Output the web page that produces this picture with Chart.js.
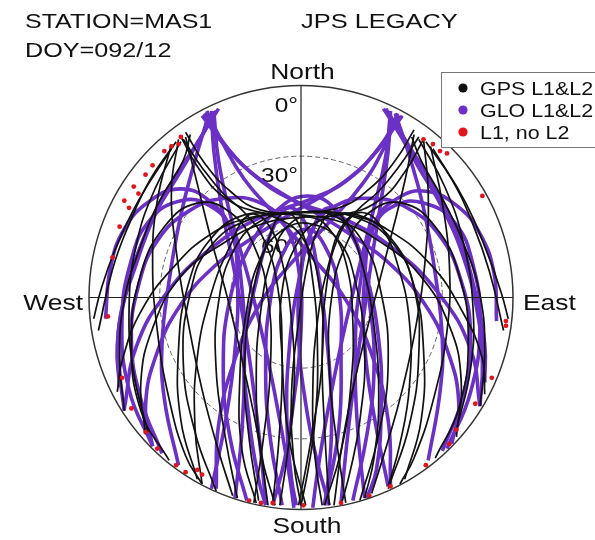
<!DOCTYPE html>
<html>
<head>
<meta charset="utf-8">
<title>MAS1 sky plot</title>
<script src="https://cdn.jsdelivr.net/npm/chart.js@4/dist/chart.umd.min.js"></script>
<style>
  html, body { margin: 0; padding: 0; background: #ffffff; }
  #wrap { width: 595px; height: 540px; position: relative; }
</style>
</head>
<body>
<div id="wrap"><canvas id="sky" width="595" height="540"></canvas></div>
<script>
// Sky tracks as [east, north] offsets in degrees of zenith distance (90 = horizon).

// GPS satellites, L1 & L2 tracked
const gpsTracks = [
  [[-51,68],[-43,54],[-32,42],[-17,36],[0,35],[17,32],[33,24],[50,10],[63,-12],[68,-35],[66,-59]],
  [[-49,70],[-41,57],[-30,45],[-17,37],[2,36],[21,35],[38,28],[55,14],[68,-5],[77,-26],[78,-41]],
  [[52,67],[44,53],[33,41],[17,35],[-1,34],[-17,31],[-33,23],[-51,9],[-63,-13],[-68,-36],[-66,-58]],
  [[48,71],[40,58],[29,46],[16,38],[-2,36],[-21,34],[-38,27],[-54,13],[-68,-6],[-76,-27],[-78,-40]],
  [[-52,67],[-55,46],[-53,20],[-48,-10],[-42,-39],[-35,-65],[-29,-84]],
  [[-55,65],[-61,41],[-63,15],[-61,-14],[-56,-43],[-49,-67],[-42,-79]],
  [[-49,68],[-44,48],[-38,24],[-31,-1],[-24,-31],[-18,-60],[-14,-88]],
  [[-53,66],[-64,50],[-73,31],[-80,12],[-86,-14]],
  [[52,67],[54,45],[53,19],[49,-11],[43,-39],[36,-64],[30,-83]],
  [[55,64],[60,40],[63,14],[62,-14],[56,-44],[48,-68],[42,-79]],
  [[48,69],[44,49],[38,25],[31,-2],[24,-30],[18,-59],[14,-88]],
  [[53,66],[64,50],[73,31],[80,11],[86,-14]],
  [[-27,-85],[-32,-60],[-36,-31],[-35,-2],[-28,21],[-16,33],[-1,36],[13,35],[26,24],[34,2],[37,-28],[33,-58],[25,-86]],
  [[-11,-88],[-17,-65],[-19,-35],[-17,-5],[-12,18],[-5,31],[4,34],[12,29],[19,15],[22,-10],[21,-39],[17,-65],[10,-88]],
  [[-44,-77],[-51,-52],[-52,-22],[-48,5],[-39,24],[-24,35],[-9,33],[2,23],[8,3],[9,-26],[5,-56],[-1,-88]],
  [[2,-88],[-5,-60],[-8,-26],[-8,3],[-1,24],[9,33],[24,35],[39,24],[48,5],[52,-22],[51,-52],[44,-77]],
  [[-36,-82],[-45,-57],[-50,-27],[-47,2],[-39,21],[-22,33],[1,36],[23,34],[39,23],[48,4],[50,-24],[46,-54],[37,-81]],
  [[-55,63],[-69,41],[-79,20],[-85,3],[-88,-9]],
  [[56,63],[70,40],[79,19],[85,2],[88,-9]],
  [[-19,-87],[-25,-65],[-26,-35],[-23,-5],[-17,17],[-7,29],[5,31],[16,24],[23,7],[27,-22],[25,-52],[21,-73],[17,-88]],
  [[-75,-48],[-77,-26],[-75,-1],[-68,22],[-60,41],[-50,58],[-47,69]],
  [[76,-46],[78,-24],[76,1],[69,23],[60,42],[51,58],[47,68]],
  [[-18,-86],[-22,-60],[-24,-31],[-21,-1],[-14,24],[-7,36],[0,29],[5,7],[7,-22],[6,-52],[3,-73],[0,-88]],
  [[0,-88],[-3,-70],[-4,-40],[-1,-10],[3,15],[8,30],[14,36],[20,30],[26,14],[31,-12],[33,-42],[31,-68],[27,-85]],
  [[-42,-79],[-45,-55],[-44,-25],[-38,2],[-30,22],[-22,35],[-14,31],[-8,15],[-4,-10],[-3,-40],[-6,-68],[-9,-88]],
  [[9,-88],[6,-68],[5,-40],[7,-10],[12,15],[18,31],[26,36],[34,30],[41,14],[46,-10],[46,-38],[42,-62],[37,-80]],
  [[-56,-69],[-68,-48],[-72,-18],[-68,10],[-58,30],[-44,40],[-30,36],[-20,22],[-14,0],[-13,-30],[-16,-60],[-20,-87]],
  [[57,-68],[67,-47],[71,-18],[67,10],[57,30],[43,40],[29,36],[19,22],[13,0],[12,-30],[15,-60],[19,-87]],
  [[-51,66],[-62,46],[-70,22],[-73,-5],[-71,-32],[-65,-57]],
  [[50,67],[61,47],[69,23],[73,-4],[72,-30],[66,-56]],
  [[-50,67],[-42,55],[-33,44],[-24,36],[-16,25],[-10,5],[-8,-25],[-9,-55],[-12,-88]],
  [[50,68],[42,56],[33,45],[24,37],[16,26],[11,6],[9,-24],[10,-55],[12,-88]]
];

// GLONASS satellites, L1 & L2 tracked
const gloTracks = [
  [[-37,79],[-35,58],[-30,35],[-22,7],[-15,-22],[-9,-52],[-5,-75],[-3,-89]],
  [[-40,79],[-33,65],[-24,50],[-11,35],[4,18],[19,-1],[30,-24],[37,-52],[38,-80]],
  [[-42,77],[-32,64],[-19,51],[-3,41],[19,33],[40,20],[59,1],[72,-22],[76,-46]],
  [[-36,79],[-43,67],[-52,52],[-62,35],[-70,14],[-77,-10],[-77,-31],[-75,-48]],
  [[-39,78],[-45,58],[-51,35],[-56,7],[-59,-20],[-58,-43],[-52,-71]],
  [[38,79],[36,60],[31,38],[24,10],[17,-20],[11,-50],[7,-74],[5,-89]],
  [[41,78],[35,63],[26,48],[13,33],[-2,17],[-17,-2],[-28,-26],[-35,-54],[-36,-81]],
  [[43,77],[33,63],[20,50],[5,42],[-17,34],[-38,21],[-57,2],[-70,-21],[-75,-47]],
  [[35,80],[42,69],[50,55],[60,38],[69,17],[75,-7],[77,-28],[76,-46]],
  [[40,78],[46,60],[52,38],[57,10],[60,-18],[59,-40],[54,-69]],
  [[-23,-86],[-30,-60],[-33,-31],[-30,0],[-21,23],[-9,38],[3,43],[14,38],[24,22],[29,-2],[31,-30],[28,-58],[22,-86]],
  [[-59,-66],[-68,-43],[-72,-18],[-69,5],[-61,24],[-47,37],[-32,42],[-17,40],[-7,31],[-1,12],[0,-14],[-3,-43],[-7,-69],[-12,-88]],
  [[60,-65],[69,-41],[72,-16],[68,7],[59,26],[45,38],[30,42],[15,39],[5,29],[0,10],[-1,-16],[2,-45],[7,-70],[12,-88]],
  [[-83,-9],[-81,12],[-75,29],[-64,41],[-51,46],[-39,41],[-30,29],[-25,3],[-24,-26],[-25,-56],[-28,-85]],
  [[83,-10],[82,10],[76,27],[66,39],[53,45],[41,42],[31,31],[25,5],[23,-24],[24,-55],[27,-85]],
  [[-8,-88],[-13,-60],[-15,-31],[-13,-1],[-7,20],[2,29],[10,22],[16,3],[17,-26],[16,-56],[10,-88]],
  [[-15,-88],[-18,-77],[-22,-52],[-24,-22],[-19,7],[-12,29],[-5,38],[2,31],[7,12],[11,-18],[13,-48],[12,-73],[10,-88]],
  [[-2,-88],[-4,-77],[-6,-52],[-5,-22],[-1,7],[5,29],[12,38],[20,29],[27,12],[33,-18],[34,-48],[32,-73],[28,-85]],
  [[-63,-63],[-73,-39],[-76,-10],[-72,16],[-64,33],[-51,41],[-39,39],[-30,29],[-27,7],[-28,-22],[-32,-52],[-38,-81]],
  [[62,-64],[72,-40],[76,-12],[73,14],[65,32],[52,40],[40,39],[31,30],[27,8],[27,-20],[31,-50],[37,-80]],
  [[-38,79],[-37,62],[-34,40],[-29,15],[-24,-12],[-20,-40],[-17,-66],[-15,-87]],
  [[38,78],[37,62],[34,41],[30,16],[26,-12],[22,-40],[19,-66],[17,-87]],
  [[-35,80],[-45,64],[-56,47],[-66,27],[-74,3],[-78,-20],[-77,-38]],
  [[36,80],[46,64],[57,46],[67,26],[74,2],[78,-20],[78,-36]],
  [[-41,78],[-31,63],[-20,52],[-8,44],[6,36],[22,26],[38,14],[52,-2],[62,-22],[67,-45],[64,-62]],
  [[42,77],[32,62],[21,51],[9,43],[-5,35],[-21,25],[-37,13],[-51,-3],[-61,-23],[-66,-46],[-63,-63]]
];

// Epochs with L1 only (no L2), low on the horizon
const l1OnlyPoints = [
  [-52,65],[-55,64],[-58,62],[-66,52],[-69,44],[-73,38],[-75,41],[-77,30],[-80,17],[-51,68],[-63,56],[-71,47],
  [52,67],[56,65],[62,61],[77,43],[59,62],
  [-82,-8],[-76,-34],[-72,-47],[-66,-57],[-61,-64],[-53,-71],[-49,-74],[-44,-73],[-42,-75],[-22,-86],[-17,-87],[-12,-87],
  [87,-12],[87,-10],[81,-34],[74,-45],[66,-56],[63,-62],[53,-71],[38,-80],[29,-84],[17,-87],[1,-88]
];

// Elevation rings and their labels
const ringElevations = [0, 30, 60];
const ringLabels = ['0°', '30°', '60°'];
const compassLabels = ['North', 'South', 'West', 'East'];
const titleLines = ['STATION=MAS1', 'DOY=092/12'];
const receiverLabel = 'JPS LEGACY';
const seriesNames = ['GPS L1&L2', 'GLO L1&L2', 'L1, no L2'];
const seriesColors = ['#111111', '#6b30c4', '#e3141a'];

const FONT = '"Liberation Sans", Arial, Helvetica, sans-serif';
const toXY = pts => pts.map(([e, n]) => ({ x: e, y: n }));

const datasets = [];
gloTracks.forEach(t => datasets.push({
  data: toXY(t), showLine: true, pointRadius: 0, borderColor: seriesColors[1],
  borderWidth: 3.6, tension: 0.45, order: 2, fill: false
}));
gpsTracks.forEach(t => datasets.push({
  data: toXY(t), showLine: true, pointRadius: 0, borderColor: seriesColors[0],
  borderWidth: 1.7, tension: 0.45, order: 1, fill: false
}));
datasets.push({
  data: toXY(l1OnlyPoints), showLine: false, pointRadius: 2.4, pointBorderWidth: 0,
  pointBackgroundColor: seriesColors[2], order: 0
});

function wideText(ctx, text, x, y, align, size, sx) {
  ctx.save();
  ctx.font = size + 'px ' + FONT;
  ctx.textAlign = align;
  ctx.textBaseline = 'alphabetic';
  ctx.translate(x, y);
  ctx.scale(sx, 1);
  ctx.fillText(text, 0, 0);
  ctx.restore();
}

function geometry(chart) {
  const xs = chart.scales.x, ys = chart.scales.y;
  const cx = xs.getPixelForValue(0), cy = ys.getPixelForValue(0);
  const R = xs.getPixelForValue(90) - cx;
  return { cx, cy, R, xs, ys };
}

const skyFrame = {
  id: 'skyFrame',
  beforeDatasetsDraw(chart) {
    const ctx = chart.ctx;
    const { cx, cy, R, xs } = geometry(chart);
    ctx.save();
    // dashed elevation rings
    ctx.strokeStyle = '#666666';
    ctx.lineWidth = 1;
    ctx.setLineDash([5, 3]);
    ringElevations.forEach(el => {
      if (el === 0) return;
      const r = xs.getPixelForValue(90 - el) - cx;
      ctx.beginPath();
      ctx.arc(cx, cy, r, 0, Math.PI * 2);
      ctx.stroke();
    });
    ctx.setLineDash([]);
    // ring labels, left of the north axis
    ctx.fillStyle = '#111111';
    ringElevations.forEach((el, i) => {
      const r = xs.getPixelForValue(90 - el) - cx;
      wideText(ctx, ringLabels[i], cx - 3, cy - r + 26, 'right', 20, 1.22);
    });
    ctx.restore();
  },
  afterDatasetsDraw(chart) {
    const ctx = chart.ctx;
    const { cx, cy, R } = geometry(chart);
    ctx.save();
    ctx.strokeStyle = '#222222';
    ctx.lineWidth = 1.2;
    ctx.beginPath();
    ctx.moveTo(cx - R, cy); ctx.lineTo(cx + R, cy);
    ctx.moveTo(cx, cy - R); ctx.lineTo(cx, cy + R);
    ctx.stroke();
    ctx.strokeStyle = '#333333';
    ctx.lineWidth = 1.5;
    ctx.beginPath();
    ctx.arc(cx, cy, R, 0, Math.PI * 2);
    ctx.stroke();

    ctx.fillStyle = '#111111';
    // compass directions
    wideText(ctx, compassLabels[0], cx + 1.5, cy - R - 7, 'center', 22, 1.2);
    wideText(ctx, compassLabels[1], cx + 6, cy + R + 23, 'center', 22, 1.2);
    wideText(ctx, compassLabels[2], cx - R - 6, cy + 12.5, 'right', 22, 1.2);
    wideText(ctx, compassLabels[3], cx + R + 10, cy + 12.5, 'left', 22, 1.2);

    // header text
    wideText(ctx, titleLines[0], 25, 28, 'left', 21, 1.19);
    wideText(ctx, titleLines[1], 25, 57, 'left', 21, 1.2);
    wideText(ctx, receiverLabel, 301, 28, 'left', 21, 1.21);

    // legend box
    ctx.fillStyle = '#ffffff';
    ctx.fillRect(441.5, 72.5, 160, 75);
    ctx.strokeStyle = '#777777';
    ctx.lineWidth = 1;
    ctx.strokeRect(441.5, 72.5, 160, 75);
    seriesNames.forEach((name, i) => {
      const y = 88 + i * 22;
      ctx.fillStyle = seriesColors[i];
      ctx.beginPath();
      ctx.arc(463, y, 4.6, 0, Math.PI * 2);
      ctx.fill();
      ctx.fillStyle = '#111111';
      wideText(ctx, name, 480, y + 7, 'left', 18, 1.19);
    });
    ctx.restore();
  }
};

new Chart(document.getElementById('sky'), {
  type: 'scatter',
  data: { datasets },
  options: {
    responsive: false,
    animation: false,
    layout: { padding: { left: 89, right: 82, top: 85, bottom: 30 } },
    scales: {
      x: { type: 'linear', min: -90, max: 90, display: false },
      y: { type: 'linear', min: -90, max: 90, display: false }
    },
    plugins: { legend: { display: false }, tooltip: { enabled: false } }
  },
  plugins: [skyFrame]
});
</script>
</body>
</html>
